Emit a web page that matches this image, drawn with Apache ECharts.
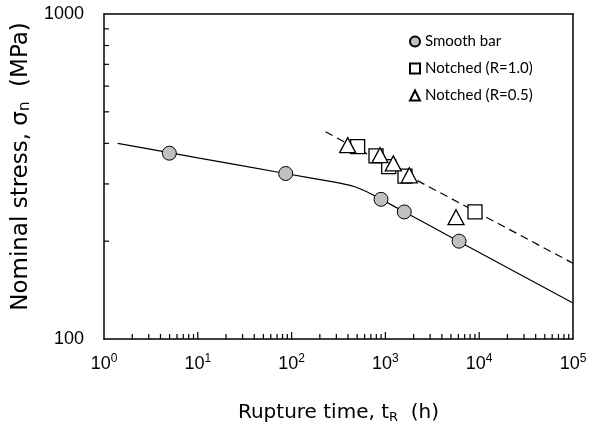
<!DOCTYPE html>
<html>
<head>
<meta charset="utf-8">
<script src="https://cdn.jsdelivr.net/npm/echarts@6/dist/echarts.min.js"></script>
<style>
  html, body { margin: 0; padding: 0; background: #fff; }
  #chart { width: 597px; height: 432px; }
</style>
</head>
<body>
<div id="chart"></div>
<script>
// 数据 - 光滑试样
var smoothX = [4.97, 86.5, 898, 1590, 6100];
var smoothY = [373, 323, 269, 246, 200];
// 缺口 R=1.0
var notch10X = [506, 794, 1084, 1618, 9020];
var notch10Y = [391, 366, 339, 317, 246];
// 缺口 R=0.5
var notch05X = [396, 876, 1214, 1798, 5660];
var notch05Y = [395, 368, 347, 319, 237];
// 拟合曲线（光滑试样）
var fitSmoothX = [1.4, 10, 86, 250, 400, 470, 550, 650, 900, 1600, 6000, 100000];
var fitSmoothY = [400, 361, 323, 306, 298, 294, 289, 283, 269, 246, 200, 129];
// 拟合直线（缺口）
var fitNotchX = [230, 100000];
var fitNotchY = [434, 171];
// 刻度
var xTickLabels = ['0', '1', '2', '3', '4', '5'];
var minorMult = [2, 3, 4, 5, 6, 7, 8, 9];
var xDecades = [1, 10, 100, 1000, 10000];
var yDecades = [100];

function pairs(xs, ys) {
    return xs.map(function(x, i) { return [x, ys[i]]; });
}

// 次刻度位置
var xMinor = [];
xDecades.forEach(function(d) {
    minorMult.forEach(function(m) { xMinor.push([d * m, 100]); });
});
var xMajor = xDecades.slice(1).map(function(d) { return [d, 100]; });
var yMinor = [];
yDecades.forEach(function(d) {
    minorMult.forEach(function(m) { yMinor.push([1, d * m]); });
});

var font = 'Liberation Sans, Arial, sans-serif';
var titleFont = 'DejaVu Sans, sans-serif';

// 边框轴（上、右）
var frameAxis = {
    type: 'log',
    logBase: 10,
    splitLine: { show: false },
    axisLine: { show: true, lineStyle: { color: '#000', width: 1.5 } },
    axisTick: { show: false },
    axisLabel: { show: false }
};

// 刻度线用短矩形符号画
function tickSeries(data, size, offset) {
    return {
        type: 'scatter',
        data: data,
        symbol: 'rect',
        symbolSize: size,
        symbolOffset: offset,
        itemStyle: { color: '#000', opacity: 1 },
        silent: true,
        clip: false,
        z: 6
    };
}

var option = {
    animation: false,
    backgroundColor: '#fff',
    grid: {
        left: 104,
        right: 24,
        top: 14,
        bottom: 93
    },
    legend: {
        orient: 'vertical',
        left: 404,
        top: 29,
        itemWidth: 10,
        itemHeight: 10,
        itemGap: 12,
        data: ['Smooth bar', 'Notched (R=1.0)', 'Notched (R=0.5)'],
        textStyle: { fontFamily: 'Lato, sans-serif', fontSize: 15, color: '#000' }
    },
    xAxis: [{
        type: 'log',
        logBase: 10,
        min: 1,
        max: 100000,
        splitLine: { show: false },
        axisLine: { lineStyle: { color: '#000', width: 1.5 } },
        axisTick: { show: false },
        axisLabel: {
            margin: 14,
            formatter: function(v) {
                var e = Math.round(Math.log10(v));
                return '{b|10}{s|' + xTickLabels[e] + '}';
            },
            rich: {
                b: { fontFamily: font, fontSize: 18, color: '#000' },
                s: { fontFamily: font, fontSize: 12, color: '#000', padding: [0, 0, 10, 0] }
            }
        },
        name: '{t|Rupture time, t}{sub|R}{t|  (h)}',
        nameLocation: 'middle',
        nameGap: 63,
        nameTextStyle: {
            rich: {
                t: { fontFamily: titleFont, fontSize: 20, color: '#000' },
                sub: { fontFamily: titleFont, fontSize: 13, color: '#000', padding: [9, 0, 0, 0] }
            }
        }
    }, Object.assign({ position: 'top', min: 1, max: 100000 }, frameAxis)],
    yAxis: [{
        type: 'log',
        logBase: 10,
        min: 100,
        max: 1000,
        splitLine: { show: false },
        axisLine: { lineStyle: { color: '#000', width: 1.5 } },
        axisTick: { show: false },
        axisLabel: {
            margin: 20,
            fontFamily: font,
            fontSize: 18,
            color: '#000',
            formatter: function(v) { return String(Math.round(v)); }
        },
        name: '{t|Nominal stress, σ}{sub|n}{t|  (MPa)}',
        nameLocation: 'middle',
        nameRotate: 90,
        nameGap: 70,
        nameTextStyle: {
            padding: [0, 0, 0, 20],
            rich: {
                t: { fontFamily: titleFont, fontSize: 23, color: '#000' },
                sub: { fontFamily: titleFont, fontSize: 15, color: '#000', padding: [10, 0, 0, 0] }
            }
        }
    }, Object.assign({ position: 'right', min: 100, max: 1000 }, frameAxis)],
    series: [{
        name: 'fitSmooth',
        type: 'line',
        data: pairs(fitSmoothX, fitSmoothY),
        showSymbol: false,
        smooth: 0.2,
        lineStyle: { color: '#000', width: 1.2 },
        silent: true,
        z: 1
    }, {
        name: 'fitNotch',
        type: 'line',
        data: pairs(fitNotchX, fitNotchY),
        showSymbol: false,
        lineStyle: { color: '#000', width: 1.2, type: [8, 5] },
        silent: true,
        z: 1
    }, {
        name: 'Smooth bar',
        type: 'scatter',
        data: pairs(smoothX, smoothY),
        symbol: 'circle',
        symbolSize: 14,
        itemStyle: { color: '#c0c0c0', borderColor: '#000', borderWidth: 1, opacity: 1 },
        z: 3
    }, {
        name: 'Notched (R=1.0)',
        type: 'scatter',
        data: pairs(notch10X, notch10Y),
        symbol: 'rect',
        symbolSize: 14,
        itemStyle: { color: '#fff', borderColor: '#000', borderWidth: 1.3, opacity: 1 },
        z: 3
    }, {
        name: 'Notched (R=0.5)',
        type: 'scatter',
        data: pairs(notch05X, notch05Y),
        symbol: 'triangle',
        symbolSize: [16, 15],
        itemStyle: { color: '#fff', borderColor: '#000', borderWidth: 1.3, opacity: 1 },
        z: 4
    },
    tickSeries(xMinor, [1.2, 5], [0, -2.5]),
    tickSeries(xMajor, [1.2, 7], [0, -3.5]),
    tickSeries(yMinor, [5, 1.2], [2.5, 0])
    ]
};

var myChart = echarts.init(document.getElementById('chart'));
myChart.setOption(option);
</script>
</body>
</html>
